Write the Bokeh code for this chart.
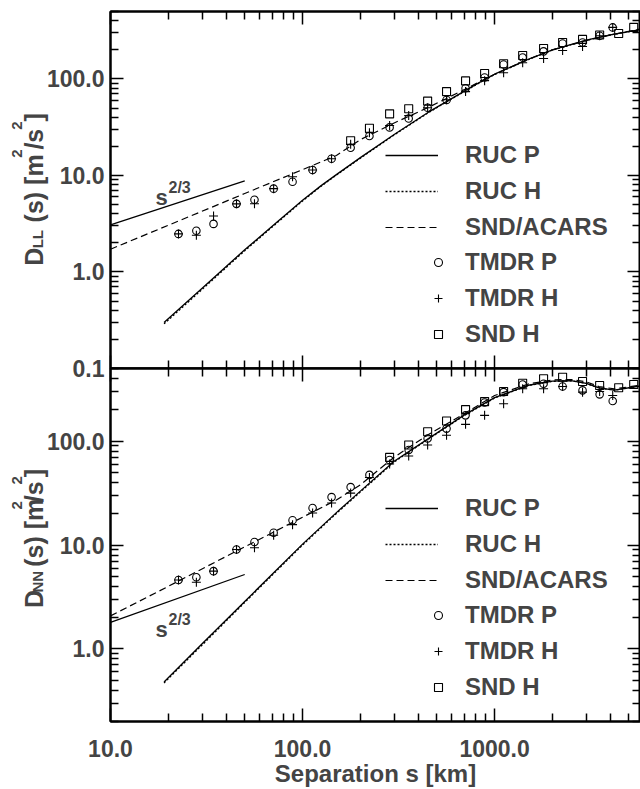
import math
from bokeh.plotting import figure
from bokeh.models import (LogAxis, FixedTicker, PrintfTickFormatter, CustomJSTickFormatter,
                          Legend, LegendItem, Label, Range1d)
from bokeh.layouts import column, row
from bokeh.embed import file_html
from bokeh.resources import INLINE

FONT = "Liberation Sans"

# ---------------- data ----------------
# top panel: D_LL
ruc_x = [19, 30, 50, 75, 100, 125, 150, 200, 300, 450, 600, 800, 1000, 1500, 2000, 3000, 4000, 5750]
ll_ruc_p = [0.30, 0.68, 1.70, 3.4, 5.55, 7.85, 10.2, 15.3, 26.6, 45, 63, 88, 112, 160, 200, 252, 287, 325]
ll_ruc_h = [0.29, 0.66, 1.66, 3.33, 5.45, 7.75, 10.1, 15.1, 26.3, 44.5, 62.5, 87, 111, 159, 199, 251, 286, 324]
snd_x = [10, 20, 50, 100, 150, 200, 300, 450, 700, 1000, 1500, 2000, 3000, 4000, 5750]
ll_snd = [1.72, 3.05, 6.5, 11.5, 16.1, 23.5, 35, 50.5, 78, 112, 160, 200, 250, 285, 330]

tmdr_x = [22.6, 28, 34.4, 45.3, 56.2, 70.7, 88.7, 112.8, 141.6, 178, 223, 284, 357, 448,
          562, 706, 887, 1114, 1400, 1799, 2260, 2870, 3523, 4121]
ll_tmdr_p = [2.48, 2.67, 3.15, 5.08, 5.6, 7.3, 8.6, 11.4, 14.9, 19.4, 25.6, 31.5, 39, 50.3,
             60.5, 80, 103.5, 141, 167, 193, 233, 239, 280, 342]
ll_tmdr_h = [2.48, 2.4, 3.8, 5.08, 5.1, 7.3, 9.7, 11.4, 14.9, 21, 27.7, 33, 41.7, 50.3,
             61, 74, 96, 116, 147, 163, 197, 217, 280, 342]
sndh_x_ll = [178, 223, 284, 357, 448, 562, 706, 887, 1114, 1400, 1799, 2260, 2870, 3523, 4426, 5300]
ll_sndh = [22.9, 30.8, 43.5, 49.1, 59, 74, 95.5, 114, 144, 175, 207, 239, 257, 285, 296, 342]

s23_x = [10, 50]
ll_s23 = [3.08, 8.8]

# bottom panel: D_NN
ruc_x_nn = [19, 30, 50, 100, 150, 200, 300, 450, 700, 1000, 1500, 2000, 2500, 3000, 3500, 4200, 5750]
nn_ruc_p = [0.48, 1.12, 2.86, 10.2, 20.5, 33, 64, 105, 180, 262, 345, 378, 382, 360, 325, 310, 340]
nn_ruc_h = [0.47, 1.09, 2.80, 10.0, 20.1, 32.4, 63, 104, 178, 260, 343, 376, 381, 359, 324, 309, 339]
snd_x_nn = [10, 20, 50, 100, 150, 200, 300, 450, 700, 1000, 1500, 2000, 2500, 3000, 3500, 4200, 5750]
nn_snd = [2.08, 4.0, 9.6, 18.5, 27.1, 38, 70, 115, 185, 275, 355, 388, 392, 372, 335, 318, 345]
nn_tmdr_p = [4.6, 4.89, 5.6, 9.06, 10.7, 13.1, 17.3, 22.7, 28.9, 36.1, 47.3, 65.8, 82, 106,
             132, 177, 235, 296, 351, 357, 336, 308, 282, 243]
nn_tmdr_h = [4.6, 4.38, 5.6, 9.06, 9.4, 12.4, 15.7, 20.3, 25.4, 31.6, 44.6, 60.3, 71.8, 91.6,
             114, 145, 177, 229, 319, 319, 336, 296, 300, 275]
sndh_x_nn = [284, 357, 448, 562, 706, 887, 1114, 1400, 1799, 2260, 2870, 3523, 4426, 5300]
nn_sndh = [69.8, 91.6, 123, 156, 201, 240, 300, 361, 398, 412, 375, 343, 326, 351]
nn_s23 = [1.8, 5.2]

x_major = [10, 100, 1000]
x_minor = [20, 30, 40, 50, 60, 70, 80, 90, 200, 300, 400, 500, 600, 700, 800, 900,
           2000, 3000, 4000, 5000]
y_major_ll = [0.1, 1, 10, 100]
y_major_nn = [1, 10, 100]
y_minor = [0.2, 0.3, 0.4, 0.5, 0.6, 0.7, 0.8, 0.9, 2, 3, 4, 5, 6, 7, 8, 9,
           20, 30, 40, 50, 60, 70, 80, 90, 200, 300, 400, 500]
legend_labels = ["RUC P", "RUC H", "SND/ACARS", "TMDR P", "TMDR H", "SND H"]

# ---------------- geometry ----------------
XR = (10.0, 5750.0)
YR_LL = (0.1, 500.0)
YR_NN = (0.2, 500.0)
FL, FR = 110, 640          # frame left/right in window pixels
LABW = FL                  # transparent strip under the left border, carries the y titles
TOP1, BOT1 = 11, 368
TOP2, BOT2 = 368, 723
H1 = 382
P2_TOP_BORDER = 5
H2 = P2_TOP_BORDER + (BOT2 - TOP2) + (789 - BOT2)


def xd(px):
    a, b = math.log10(XR[0]), math.log10(XR[1])
    return 10 ** (a + (px - FL) * (b - a) / (FR - FL))


def yd(py, top, bot, yr):
    a, b = math.log10(yr[0]), math.log10(yr[1])
    return 10 ** (b - (py - top) * (b - a) / (bot - top))


def style_axis(ax, major, minor, labels):
    ax.ticker = FixedTicker(ticks=major, minor_ticks=minor)
    ax.major_tick_in = 13
    ax.major_tick_out = 0
    ax.minor_tick_in = 8
    ax.minor_tick_out = 0
    ax.axis_line_width = 2
    ax.major_tick_line_width = 1.5
    ax.minor_tick_line_width = 1.5
    if labels:
        ax.formatter = PrintfTickFormatter(format="%.1f")
        ax.major_label_text_font = FONT
        ax.major_label_text_font_style = "bold"
        ax.major_label_text_font_size = "23px"
    else:
        ax.formatter = CustomJSTickFormatter(code="return ''")
        ax.major_label_standoff = 0
        ax.major_label_text_font_size = "0px"


def make_panel(height, yr, mb_top, mb_bot, ylabels_major, show_xlabels):
    p = figure(width=640, height=height, x_axis_type="log", y_axis_type="log",
               x_range=Range1d(*XR), y_range=Range1d(*yr),
               output_backend="svg", toolbar_location=None,
               min_border_left=FL, min_border_right=0,
               min_border_top=mb_top, min_border_bottom=mb_bot,
               background_fill_color="white", border_fill_color=None,
               outline_line_color="black", outline_line_width=2)
    p.grid.visible = False
    style_axis(p.below[0], x_major, x_minor, show_xlabels)
    style_axis(p.left[0], ylabels_major, y_minor, True)
    p.left[0].major_label_standoff = 6
    top_ax = LogAxis()
    style_axis(top_ax, x_major, x_minor, False)
    p.add_layout(top_ax, "above")
    right_ax = LogAxis()
    style_axis(right_ax, ylabels_major, y_minor, False)
    p.add_layout(right_ax, "right")
    p.margin = (0, 0, 0, -LABW)
    return p


def add_series(p, rx, rp, rh, sx, sy, tp, th, shx, sh, s23):
    r1 = p.line(rx, rp, line_color="black", line_width=1.3)
    r2 = p.line(rx, rh, line_color="black", line_width=1.3, line_dash="2 2")
    r3 = p.line(sx, sy, line_color="black", line_width=1.2, line_dash="7 4")
    p.line(s23_x, s23, line_color="black", line_width=1.3)
    r4 = p.scatter(tmdr_x, tp, marker="circle", size=7.5, fill_color=None,
                   line_color="black", line_width=1.1)
    r5 = p.scatter(tmdr_x, th, marker="cross", size=9, line_color="black", line_width=1.1)
    r6 = p.scatter(shx, sh, marker="square", size=8, fill_color=None,
                   line_color="black", line_width=1.1)
    common = dict(padding=0, margin=0, spacing=0, border_line_color=None,
                  background_fill_alpha=0, glyph_height=36, label_height=36,
                  label_text_font=FONT, label_text_font_style="bold",
                  label_text_font_size="24px")
    leg1 = Legend(items=[LegendItem(label=legend_labels[0], renderers=[r1]),
                         LegendItem(label=legend_labels[1], renderers=[r2]),
                         LegendItem(label=legend_labels[2], renderers=[r3])],
                  location=(275, 123), glyph_width=53, label_standoff=27, **common)
    leg2 = Legend(items=[LegendItem(label=legend_labels[3], renderers=[r4]),
                         LegendItem(label=legend_labels[4], renderers=[r5]),
                         LegendItem(label=legend_labels[5], renderers=[r6])],
                  location=(318, 16), glyph_width=20, label_standoff=17, **common)
    p.add_layout(leg1)
    p.add_layout(leg2)


W = {'D': .722, 'L': .611, 'N': .722, ' ': .278, '(': .333, 's': .556, ')': .333,
     '[': .333, 'm': .889, '2': .556, '/': .278, ']': .333, '3': .556}


def tw(s, size):
    return sum(W[c] for c in s) * size


def title_strip(height, sub, start_py, win_top):
    """A blank plot under the left border whose data units are pixels; carries the y title."""
    t = figure(width=LABW, height=height, x_range=Range1d(0, LABW), y_range=Range1d(height, 0),
               output_backend="svg", toolbar_location=None,
               x_axis_location=None, y_axis_location=None,
               min_border_left=0, min_border_right=0, min_border_top=0, min_border_bottom=0,
               background_fill_color=None, border_fill_color=None, outline_line_color=None)
    t.grid.visible = False
    BIG, SMALL = 25, 15
    # (text, font size, baseline x, gap before the piece)
    pieces = [("D", BIG, 33, 0), (sub, SMALL, 37, 0.5), ("(s) [m", BIG, 33, BIG * W[' '] + 2.5),
              ("2", SMALL, 16, 1), ("/s", BIG, 33, 0.5), ("2", SMALL, 16, 0.5),
              ("]", BIG, 33, 0.5)]
    pos = start_py - win_top
    for txt, size, bx, gap in pieces:
        pos -= gap
        t.add_layout(Label(x=bx, y=pos, text=txt, angle=math.pi / 2, text_font=FONT,
                           text_font_style="bold", text_font_size=f"{size}px",
                           text_align="left", text_baseline="alphabetic"))
        pos -= tw(txt, size)
    return t


def s23label(p, base_py, top, bot, yr):
    p.add_layout(Label(x=xd(155), y=yd(base_py, top, bot, yr), text="s", text_font=FONT,
                       text_font_style="bold", text_font_size="22px",
                       text_align="left", text_baseline="alphabetic"))
    p.add_layout(Label(x=xd(168), y=yd(base_py - 10, top, bot, yr), text="2/3", text_font=FONT,
                       text_font_style="bold", text_font_size="16px",
                       text_align="left", text_baseline="alphabetic"))


# ---------------- top panel ----------------
p1 = make_panel(H1, YR_LL, TOP1, H1 - BOT1, y_major_ll, False)
add_series(p1, ruc_x, ll_ruc_p, ll_ruc_h, snd_x, ll_snd, ll_tmdr_p, ll_tmdr_h,
           sndh_x_ll, ll_sndh, ll_s23)
s23label(p1, 197, TOP1, BOT1, YR_LL)
t1 = title_strip(H1, "LL", 272, 0)

# ---------------- bottom panel ----------------
p2 = make_panel(H2, YR_NN, P2_TOP_BORDER, 789 - BOT2, y_major_nn, True)
xb = p2.below[0]
xb.major_label_standoff = 18
xb.axis_label = "Separation s [km]"
xb.axis_label_text_font = FONT
xb.axis_label_text_font_style = "bold"
xb.axis_label_text_font_size = "24px"
xb.axis_label_standoff = 0
add_series(p2, ruc_x_nn, nn_ruc_p, nn_ruc_h, snd_x_nn, nn_snd, nn_tmdr_p, nn_tmdr_h,
           sndh_x_nn, nn_sndh, nn_s23)
s23label(p2, 630, TOP2, BOT2, YR_NN)
win_top2 = TOP2 - P2_TOP_BORDER
t2 = title_strip(H2, "NN", 652, win_top2)

row1 = row(t1, p1)
row2 = row(t2, p2)
row2.margin = (-(H1 - TOP2) - P2_TOP_BORDER, 0, 0, 0)
layout = column(row1, row2)
open("out.html", "w").write(file_html(layout, INLINE))
